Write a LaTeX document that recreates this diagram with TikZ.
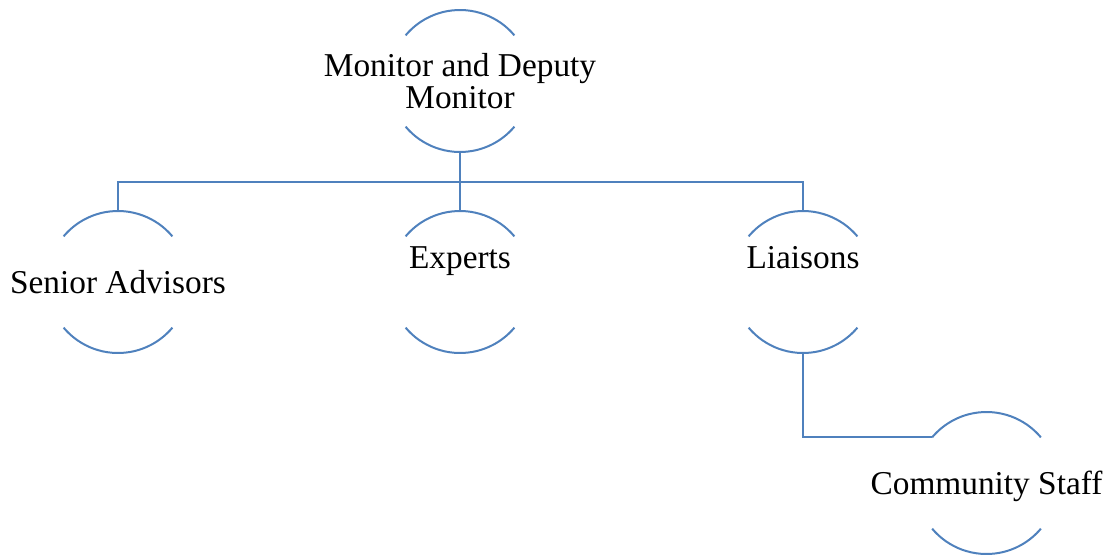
\documentclass[tikz,border=0pt]{standalone}
\usepackage{fontspec}
\setmainfont{Liberation Serif}
\definecolor{ringblue}{HTML}{4F81BD}
\tikzset{
  unit/.style={rectangle, inner sep=0pt, outer sep=0pt, minimum size=106.5pt,
    align=center, font=\fontsize{25}{24}\selectfont, text depth=0pt},
  % text set higher than the middle of the circle
  high/.style={text height=0pt, text depth=21pt},
  ring/.style={draw=ringblue, line width=1.5pt},
}
% upper and lower arc of a circle of 53.25pt round a node
\newcommand{\halfrings}[1]{%
  \draw[ring] ([shift={(40:53.25pt)}]#1.center) arc[start angle=40,end angle=140,radius=53.25pt];%
  \draw[ring] ([shift={(220:53.25pt)}]#1.center) arc[start angle=220,end angle=320,radius=53.25pt];%
}
\begin{document}
\begin{tikzpicture}[x=0.75pt,y=0.75pt]
            \useasboundingbox (0,0) rectangle (1110,-554);
            {
            
            % Placing the units
            \node[unit] (mon) at (460,-81) {Monitor and Deputy\\Monitor};
            \node[unit] (sen) at (118,-282) {Senior Advisors};
            \node[unit,high] (exp) at (460,-282) {Experts};
            \node[unit,high] (lia) at (803,-282) {Liaisons};
            \node[unit] (com) at (986.5,-483) {Community Staff};
            
            % Drawing line from the top down to the three units
            \coordinate (bus) at (460,-182);
            \draw[ring] (mon.south) -- (exp.north);
            \draw[ring] (sen.north) |- (bus) -| (lia.north);
            
            % Drawing line from Liaisons to Community Staff
            \coordinate (com-in) at ([shift={(140:53.25pt)}]com.center);
            \draw[ring] (lia.south) |- (com-in);
            
            % Marking the units by arcs
            \foreach \n in {mon,sen,exp,lia,com} {\halfrings{\n}}
            }
        \end{tikzpicture}
\end{document}
